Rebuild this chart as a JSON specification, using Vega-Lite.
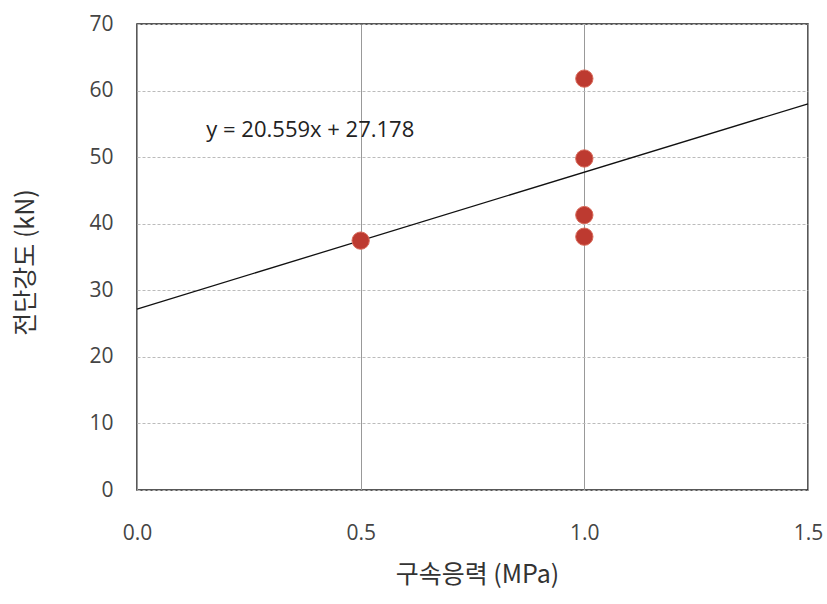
{
  "$schema": "https://vega.github.io/schema/vega-lite/v6.json",
  "autosize": "none",
  "width": 671,
  "height": 466,
  "padding": {"left": 137, "top": 24, "right": 19, "bottom": 114},
  "background": "white",
  "config": {
    "view": {"stroke": "#222", "strokeWidth": 1.5},
    "font": "Open Sans"
  },
  "datasets": {
    "pts": [
      {"x": 0.5, "y": 37.46},
      {"x": 1.0, "y": 61.8},
      {"x": 1.0, "y": 49.8},
      {"x": 1.0, "y": 41.3},
      {"x": 1.0, "y": 38.05}
    ],
    "eq": [{"x": 0.155, "y": 54.1, "label": "y = 20.559x + 27.178"}]
  },
  "layer": [
    {
      "data": {"name": "pts"},
      "transform": [{"regression": "y", "on": "x", "extent": [0, 1.5]}],
      "mark": {"type": "line", "color": "#111", "strokeWidth": 1.3},
      "encoding": {
        "x": {
          "field": "x", "type": "quantitative",
          "scale": {"domain": [0, 1.5], "nice": false},
          "axis": {
            "values": [0, 0.5, 1.0, 1.5], "format": ".1f",
            "title": "구속응력  (MPa)",
            "titleFont": "Noto Sans CJK KR", "titleFontSize": 25, "titleFontWeight": "normal",
            "titleColor": "#333", "titleX": 340, "titleY": 84, "titleBaseline": "middle", "titleAlign": "center",
            "labelFontSize": 21, "labelColor": "#444", "labelPadding": 32, "labelFlush": false,
            "grid": true, "gridColor": "#999", "gridWidth": 1,
            "domain": false, "ticks": false
          }
        },
        "y": {
          "field": "y", "type": "quantitative",
          "scale": {"domain": [0, 70], "nice": false},
          "axis": {
            "values": [0, 10, 20, 30, 40, 50, 60, 70],
            "title": "전단강도 (kN)",
            "titleFont": "Noto Sans CJK KR", "titleFontSize": 25, "titleFontWeight": "normal",
            "titleColor": "#333", "titleX": -112, "titleY": 238, "titleBaseline": "middle", "titleAlign": "center", "titleAngle": -90,
            "labelFontSize": 21, "labelColor": "#444", "labelPadding": 24,
            "grid": true, "gridColor": "#bbb", "gridWidth": 1, "gridDash": [3, 2],
            "domain": false, "ticks": false
          }
        }
      }
    },
    {
      "data": {"name": "pts"},
      "mark": {"type": "circle", "size": 300, "color": "#bd3a30", "opacity": 1, "stroke": "#d96a5a", "strokeWidth": 1},
      "encoding": {
        "x": {"field": "x", "type": "quantitative"},
        "y": {"field": "y", "type": "quantitative"}
      }
    },
    {
      "data": {"name": "eq"},
      "mark": {"type": "text", "align": "left", "baseline": "middle", "fontSize": 22, "color": "#222"},
      "encoding": {
        "x": {"field": "x", "type": "quantitative"},
        "y": {"field": "y", "type": "quantitative"},
        "text": {"field": "label"}
      }
    }
  ]
}
